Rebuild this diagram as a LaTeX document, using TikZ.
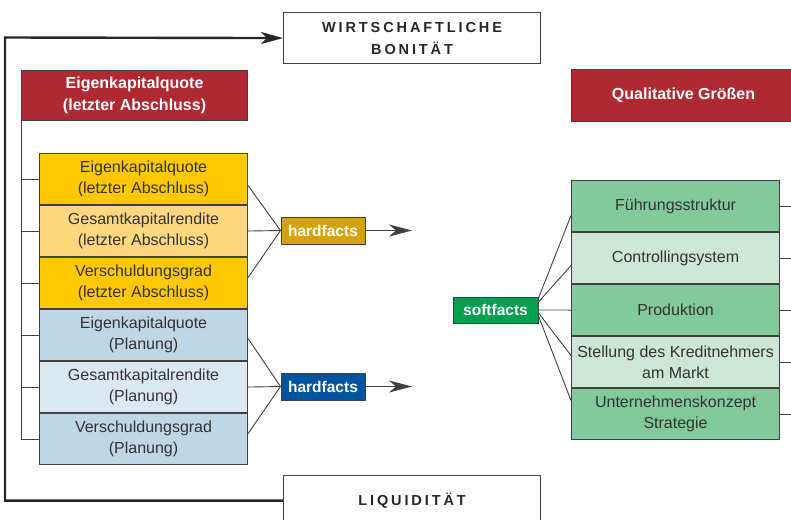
\documentclass[tikz,border=0pt]{standalone}
\usepackage{fontspec}
\setmainfont{Liberation Sans}
\newfontfamily\spacedfont[LetterSpace=20]{Liberation Sans}
\usetikzlibrary{arrows.meta}
\definecolor{hdred}{HTML}{AE2931}
\definecolor{yA}{HTML}{FFC800}
\definecolor{yB}{HTML}{FFD77F}
\definecolor{bA}{HTML}{BFD7E4}
\definecolor{bB}{HTML}{DCE8F0}
\definecolor{gA}{HTML}{82C99C}
\definecolor{gB}{HTML}{CDE6D6}
\definecolor{hfgold}{HTML}{D6A20C}
\definecolor{hfblue}{HTML}{0053A0}
\definecolor{sfgreen}{HTML}{00A04F}
\definecolor{bordergray}{HTML}{404040}
\definecolor{textgray}{HTML}{333333}
\begin{document}
\begin{tikzpicture}[x=1pt,y=-1pt,
  cell/.style={draw=bordergray, line width=1.1pt, minimum width=208pt, minimum height=51pt,
    anchor=north west, inner sep=0pt, align=center, text=textgray,
    font=\fontsize{16}{21.5}\selectfont},
  head/.style={draw=bordergray, fill=hdred, line width=1.1pt, text=white, align=center,
    anchor=north west, inner sep=0pt, font=\bfseries\fontsize{16}{22}\selectfont},
  tag/.style={draw=bordergray, line width=1pt, text=white, inner sep=0pt,
    minimum width=84pt, minimum height=27pt, font=\bfseries\fontsize{15.5}{18}\selectfont},
  titlebox/.style={draw=bordergray, fill=white, line width=1.1pt, minimum width=257pt,
    minimum height=51pt, anchor=north west, align=center, inner sep=0pt, text=black!85,
    font=\spacedfont\bfseries\fontsize{14.5}{22}\selectfont},
  thinline/.style={draw=bordergray, line width=0.9pt},
  outer/.style={draw=black!85, line width=2.4pt},
  arrthin/.style={-{Stealth[length=23pt,width=12pt,inset=7pt]}},
  arrthick/.style={-{Stealth[length=22pt,width=12pt,inset=6pt]}}
]
\useasboundingbox (0,0) rectangle (791,519);
\clip (0,0) rectangle (791,519);

% headers
\node[head, minimum width=226pt, minimum height=50pt] (hL) at (21,70) {Eigenkapitalquote\\(letzter Abschluss)};
\node[head, minimum width=224pt, minimum height=52pt] (hR) at (571,69) {Qualitative Größen};

% title boxes
\node[titlebox] (wb) at (283,12) {WIRTSCHAFTLICHE\\BONITÄT};
\node[titlebox, minimum height=50pt] (lq) at (283,475) {LIQUIDITÄT};

% left stack
\node[cell, fill=yA] (b1) at (39,153) {Eigenkapitalquote\\(letzter Abschluss)};
\node[cell, fill=yB] (b2) at (39,205) {Gesamtkapitalrendite\\(letzter Abschluss)};
\node[cell, fill=yA] (b3) at (39,257) {Verschuldungsgrad\\(letzter Abschluss)};
\node[cell, fill=bA] (b4) at (39,309) {Eigenkapitalquote\\(Planung)};
\node[cell, fill=bB] (b5) at (39,361) {Gesamtkapitalrendite\\(Planung)};
\node[cell, fill=bA] (b6) at (39,413) {Verschuldungsgrad\\(Planung)};

% right stack
\node[cell, fill=gA] (g1) at (571,180) {Führungsstruktur};
\node[cell, fill=gB] (g2) at (571,232) {Controllingsystem};
\node[cell, fill=gA] (g3) at (571,284) {Produktion};
\node[cell, fill=gB] (g4) at (571,336) {Stellung des Kreditnehmers\\am Markt};
\node[cell, fill=gA] (g5) at (571,388) {Unternehmenskonzept\\Strategie};

% tags
\node[tag, fill=hfgold] (hf1) at (323,230.5) {hardfacts};
\node[tag, fill=hfblue] (hf2) at (323,386.5) {hardfacts};
\node[tag, fill=sfgreen, minimum width=85pt, minimum height=26pt] (sf) at (495.5,310) {softfacts};

% left bracket
\draw[thinline] (hL.south west) |- (b6.west);
\foreach \b in {b1,b2,b3,b4,b5}
  \draw[thinline] (\b.west) -- (\b.west -| hL.west);

% hardfacts fans
\draw[thinline] ([yshift=-6.5pt]b1.east) -- (hf1.west);
\draw[thinline] (b2.east) -- (hf1.west);
\draw[thinline] ([yshift=5.5pt]b3.east) -- (hf1.west);
\draw[thinline] ([yshift=-3.5pt]b4.east) -- (hf2.west);
\draw[thinline] (b5.east) -- (hf2.west);
\draw[thinline] ([yshift=5.5pt]b6.east) -- (hf2.west);

\coordinate (t1) at (412,230.5);
\coordinate (t2) at (412,386.5);
\draw[thinline, arrthin, fill=bordergray] (hf1.east) -- (t1);
\draw[thinline, arrthin, fill=bordergray] (hf2.east) -- (t2);

% softfacts fan
\draw[thinline] ([yshift=12pt]sf.east) -- ([yshift=-9.5pt]g1.west);
\draw[thinline] ([yshift=8pt]sf.east) -- ([yshift=-7.5pt]g2.west);
\draw[thinline] (sf.east) -- (g3.west);
\draw[thinline] ([yshift=-3pt]sf.east) -- ([yshift=6.5pt]g4.west);
\draw[thinline] ([yshift=-6pt]sf.east) -- ([yshift=13.5pt]g5.west);

% right ticks
\coordinate (redge) at (800,0);
\foreach \g in {g1,g2,g3,g4,g5}
  \draw[thinline] (\g.east) -- (\g.east -| redge);

% outer loop
\coordinate (ctl) at (5,37.5);
\draw[outer, arrthick] (lq.west) -| (ctl) -- (wb.west);
\end{tikzpicture}
\end{document}
